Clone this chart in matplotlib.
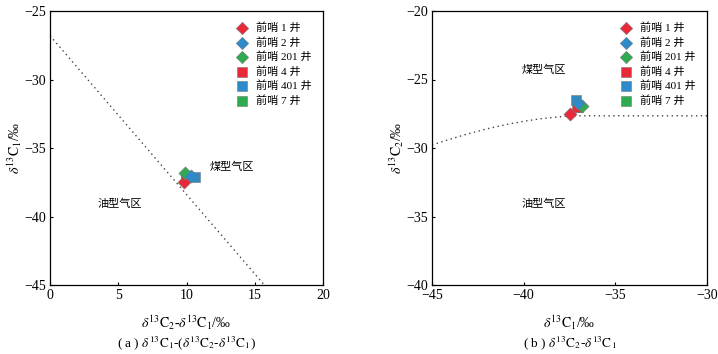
import matplotlib
matplotlib.use('Agg')
import matplotlib.pyplot as plt

plt.rcParams['font.family'] = ['Liberation Serif', 'Noto Sans CJK SC']
plt.rcParams['mathtext.fontset'] = 'stix'
plt.rcParams['axes.unicode_minus'] = True

# well data
wells = ['前哨 1 井', '前哨 2 井', '前哨 201 井', '前哨 4 井', '前哨 401 井', '前哨 7 井']
c1 = [-37.45, -37.05, -36.8, -37.1, -37.15, -37.05]
c2 = [-27.55, -26.75, -26.95, -27.0, -26.5, -27.0]
diff = [9.85, 10.3, 9.9, 9.95, 10.6, 9.95]
colors = ['#e8293a', '#2b8bcb', '#2eaa4f', '#e8293a', '#2b8bcb', '#2eaa4f']
markers = ['D', 'D', 'D', 's', 's', 's']

# boundary lines
line_a_x = [0, 15.7]
line_a_y = [-26.8, -45]
line_b_x = [-45, -44, -43, -42, -41, -40, -39, -38, -37.4, -30]
line_b_y = [-29.78, -29.35, -28.95, -28.6, -28.3, -28.05, -27.85, -27.72, -27.65, -27.65]

fig = plt.figure(figsize=(7.18, 3.54), dpi=100)
ax1 = fig.add_axes([50/718, 69/354, 273/718, 274/354])
ax2 = fig.add_axes([432/718, 69/354, 275/718, 274/354])

def style(ax):
    ax.tick_params(direction='in', length=2.5, width=0.8, labelsize=10, pad=3)
    for s in ax.spines.values():
        s.set_linewidth(0.9)

# drawing order: 前哨 7 井 sits underneath the others
order = [5, 3, 4, 0, 2, 1]

#Plot (a)
ax1.plot(line_a_x, line_a_y, ls=(0, (1, 2.5)), color='#444444', lw=1)
for i in order:
    ax1.scatter(diff[i], c1[i], marker=markers[i], s=45 if markers[i] == 'D' else 50,
                c=colors[i], edgecolors='#777777', linewidths=0.4, zorder=3)
ax1.set_xlim(0, 20)
ax1.set_ylim(-45, -25)
ax1.set_xticks([0, 5, 10, 15, 20])
ax1.set_yticks([-45, -40, -35, -30, -25])
ax1.text(11.7, -36.4, '煤型气区', fontsize=8, va='center')
ax1.text(3.5, -39.05, '油型气区', fontsize=8, va='center')
ax1.set_xlabel(r'$\delta^{13}\mathrm{C}_2$-$\delta^{13}\mathrm{C}_1$/‰', fontsize=10, labelpad=8)
ax1.set_ylabel(r'$\delta^{13}\mathrm{C}_1$/‰', fontsize=10, labelpad=0)
style(ax1)

#Plot (b)
ax2.plot(line_b_x, line_b_y, ls=(0, (1, 2.5)), color='#444444', lw=1)
for i in order:
    ax2.scatter(c1[i], c2[i], marker=markers[i], s=45 if markers[i] == 'D' else 50,
                c=colors[i], edgecolors='#777777', linewidths=0.4, zorder=3)
ax2.set_xlim(-45, -30)
ax2.set_ylim(-40, -20)
ax2.set_xticks([-45, -40, -35, -30])
ax2.set_yticks([-40, -35, -30, -25, -20])
ax2.text(-40.1, -24.3, '煤型气区', fontsize=8, va='center')
ax2.text(-40.1, -34.05, '油型气区', fontsize=8, va='center')
ax2.set_xlabel(r'$\delta^{13}\mathrm{C}_1$/‰', fontsize=10, labelpad=8)
ax2.set_ylabel(r'$\delta^{13}\mathrm{C}_2$/‰', fontsize=10, labelpad=0)
style(ax2)

# legends
for ax in (ax1, ax2):
    handles = []
    for i in range(6):
        h = ax.scatter([], [], marker=markers[i], s=40 if markers[i] == 'D' else 45,
                       c=colors[i], edgecolors='#777777', linewidths=0.4)
        handles.append(h)
    ax.legend(handles, wells, loc='upper right', frameon=False, fontsize=8,
              handletextpad=0.3, labelspacing=0.35, borderaxespad=0.6,
              bbox_to_anchor=(1.0, 1.0))

fig.text((50+323)/2/718, 1-343/354, r'( a ) $\delta^{13}\mathrm{C}_1$-($\delta^{13}\mathrm{C}_2$-$\delta^{13}\mathrm{C}_1$)',
         ha='center', va='center', fontsize=9.5)
fig.text((432+707)/2/718, 1-343/354, r'( b ) $\delta^{13}\mathrm{C}_2$-$\delta^{13}\mathrm{C}_1$',
         ha='center', va='center', fontsize=9.5)

fig.savefig('out.png', dpi=100)
